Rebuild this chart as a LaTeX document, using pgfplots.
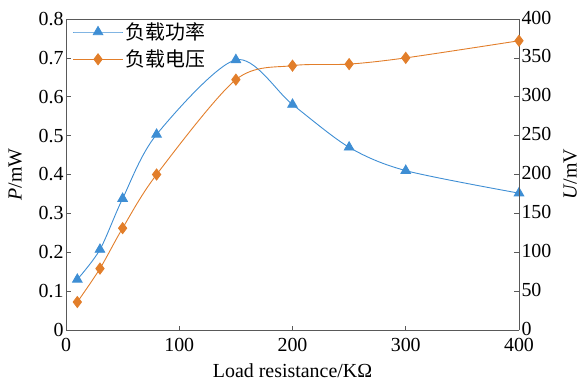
\documentclass[border=0pt]{standalone}
\usepackage{pgfplots}
\pgfplotsset{compat=1.18}
\usepackage{fontspec}
\setmainfont{Liberation Serif}
\newfontfamily\cjk{Noto Sans CJK SC}
\definecolor{cblue}{RGB}{62,142,212}
\definecolor{corange}{RGB}{226,126,42}
\begin{document}
\begin{tikzpicture}
\useasboundingbox (-66bp,-51bp) rectangle (519bp,330bp);
\pgfplotsset{every axis/.append style={
  width=453bp, height=311bp, scale only axis,
  xmin=0, xmax=400, 
  tick align=inside,
  major tick length=4.5bp,
  axis line style={gray!70!black, line width=0.9pt},
  tick style={gray!70!black, line width=0.7pt},
  tick label style={font=\fontsize{20}{20}\selectfont},
  label style={font=\fontsize{20}{20}\selectfont},
  /pgf/number format/assume math mode=true,
}}
\begin{axis}[
  ymin=0, ymax=0.8,
  ytick={0,0.1,...,0.8},
  yticklabel style={/pgf/number format/fixed,/pgf/number format/precision=1, xshift=1bp},
  xtick={0,100,200,300,400},
  axis y line*=left,
  axis x line*=bottom,
  xlabel={Load resistance/KΩ},
  ylabel={\textit{P}/mW},
  xlabel style={at={(axis description cs:0.5,-0.131)}, anchor=center},
  ylabel style={at={(axis description cs:-0.112,0.5)}, anchor=center, rotate=0},
  xticklabel style={yshift=-8bp, inner sep=0pt},
  legend style={draw=none, fill=none, at={(0.012,0.998)}, anchor=north west, font=\fontsize{20}{20}\cjk, row sep=5bp, inner sep=1pt},
  legend cell align=left,
  legend image code/.code={\draw[mark repeat=2,mark phase=2] plot coordinates {(0cm,0cm)(0.88cm,0cm)(1.76cm,0cm)};},
]
\addplot[cblue, line width=0.9pt, smooth, mark=triangle*, mark size=5.5pt, mark options={solid}] coordinates {
(10,0.13) (30,0.207) (50,0.338) (80,0.503) (150,0.695) (200,0.58) (250,0.47) (300,0.41) (400,0.352)};
\addlegendentry{负载功率}
\addlegendimage{corange, line width=0.9pt, mark=diamond*, mark size=5.5pt}
\addlegendentry{负载电压}
\end{axis}
\begin{axis}[
  ymin=0, ymax=400,
  ytick={0,50,...,400},
  axis y line*=right,
  axis x line=none,
  ylabel={\textit{U}/mV},
  ylabel style={at={(axis description cs:1.113,0.5)}, anchor=center},
  yticklabel style={xshift=-1bp, yshift=1.5bp},
]
\addplot[corange, line width=0.9pt, smooth, mark=diamond*, mark size=5.5pt] coordinates {
(10,36) (30,79) (50,131) (80,200) (150,322) (200,340) (250,342) (300,350) (400,372)};
\end{axis}
\draw[gray!70!black, line width=0.9pt] (0,311bp) -- (453bp,311bp);
\end{tikzpicture}
\end{document}
